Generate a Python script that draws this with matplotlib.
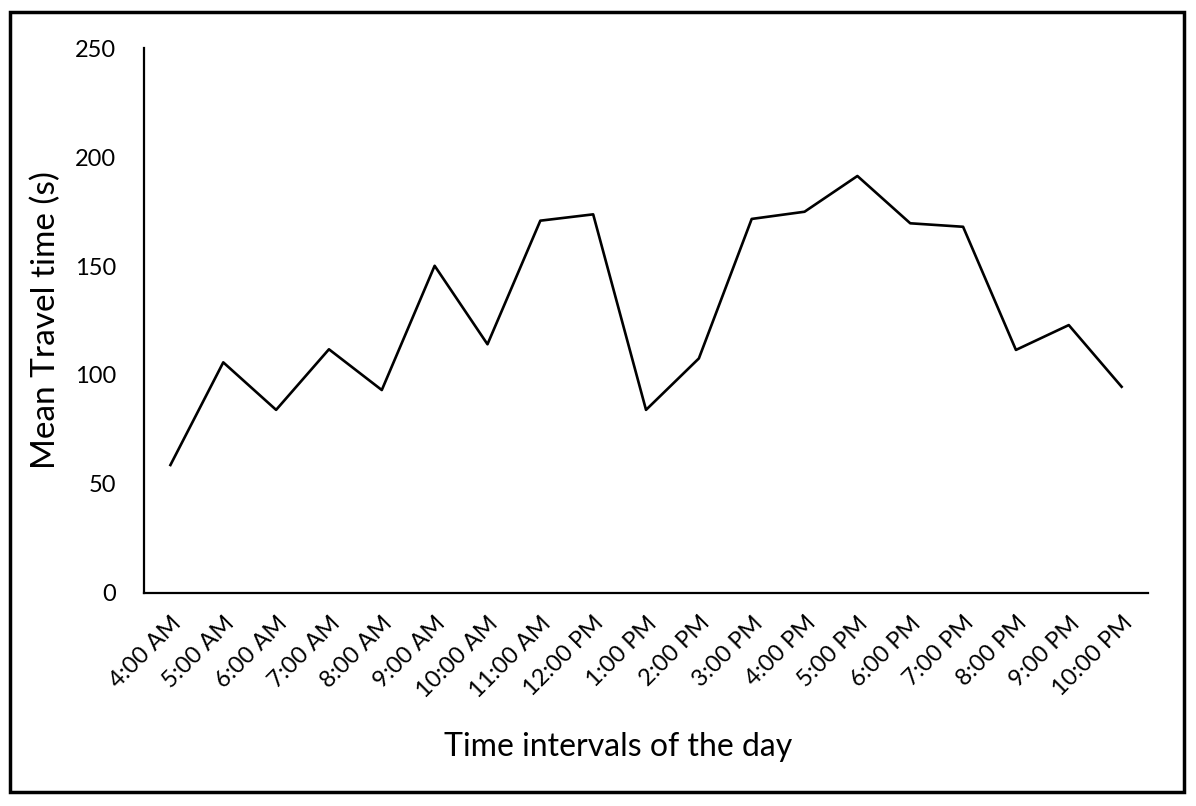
import matplotlib.pyplot as plt
from matplotlib.patches import Rectangle

plt.rcParams['font.family'] = ['Lato', 'DejaVu Sans']

hours = ['4:00 AM', '5:00 AM', '6:00 AM', '7:00 AM', '8:00 AM', '9:00 AM', '10:00 AM',
	'11:00 AM', '12:00 PM', '1:00 PM', '2:00 PM', '3:00 PM', '4:00 PM', '5:00 PM',
	'6:00 PM', '7:00 PM', '8:00 PM', '9:00 PM', '10:00 PM']
travel_time = [58.7, 105.8, 84.0, 111.8, 93.1, 150.1, 114.1, 170.8, 173.7, 84.0,
	107.6, 171.6, 174.9, 191.3, 169.6, 168.0, 111.5, 122.9, 94.6]
yticks = [0, 50, 100, 150, 200, 250]

fig = plt.figure(figsize=(11.96, 8.06), dpi=100)
ax = fig.add_axes([0.1204, 0.2643, 0.8395, 0.6761])

x = range(len(hours))
ax.plot(x, travel_time, color='black', linewidth=1.9)

ax.set_xlim(-0.5, len(hours) - 0.5)
ax.set_ylim(0, 250)
ax.set_yticks(yticks)
ax.set_xticks(list(x))
ax.set_xticklabels(hours, rotation=45, ha='right', va='top', rotation_mode='anchor')
ax.tick_params(axis='both', length=0, labelsize=17)
ax.tick_params(axis='y', pad=20)
ax.tick_params(axis='x', pad=14)

for s in ['top', 'right']:
	ax.spines[s].set_visible(False)
for s in ['left', 'bottom']:
	ax.spines[s].set_linewidth(1.6)

ax.set_ylabel('Mean Travel time (s)', fontsize=24, labelpad=10)
ax.set_xlabel('Time intervals of the day', fontsize=23, labelpad=22, x=0.472)

fig.patches.append(Rectangle((10/1196, 14/806), 1174/1196, 780/806, transform=fig.transFigure,
	fill=False, edgecolor='black', linewidth=2.5))

plt.savefig('out.png', dpi=100)
